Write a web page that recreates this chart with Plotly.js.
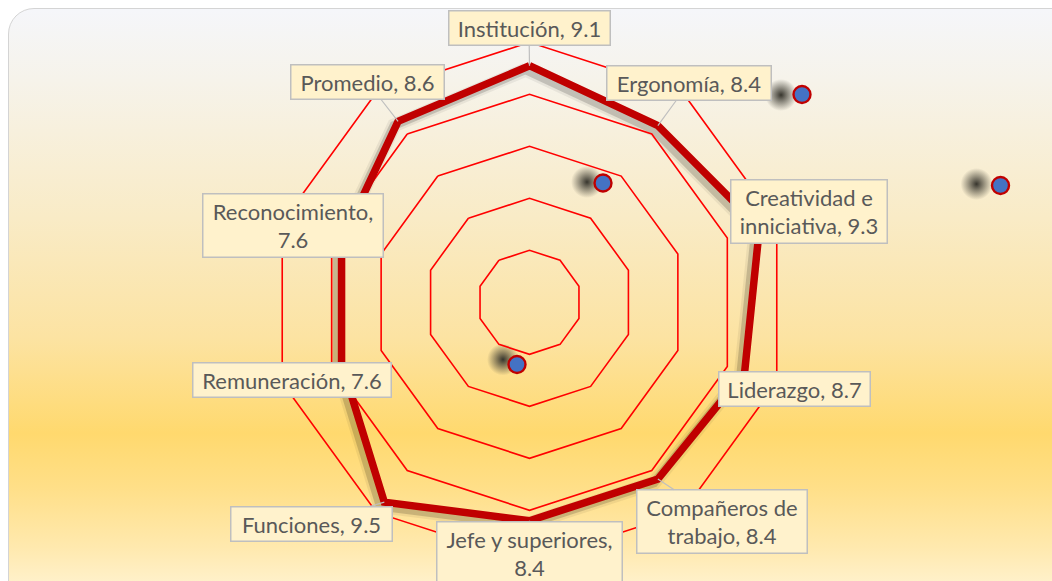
<!DOCTYPE html>
<html>
<head>
<meta charset="utf-8">
<script src="https://cdn.plot.ly/plotly-3.0.1.min.js"></script>
<style>
  html, body { margin:0; padding:0; width:1052px; height:581px; overflow:hidden; background:#ffffff; }
  #frame {
    position:absolute; left:8px; top:8px; width:1070px; height:600px;
    border:1.5px solid #D4D4D4; border-radius:26px; box-sizing:border-box;
    background:linear-gradient(to bottom,
      #F5F6FA 0%, #F6F3EA 12%, #F9EBC6 35%, #FCE3A2 55%, #FFD96E 71%,
      #FFDF88 80%, #FFE9AE 90%, #FFF2CF 97%);
  }
  #chart { position:absolute; left:0; top:0; width:1052px; height:581px; }
</style>
</head>
<body>
<div id="frame"></div>
<div id="chart"></div>
<script>
// ---------------- data ----------------
const categories = ['Institución', 'Ergonomía', 'Creatividad e inniciativa', 'Liderazgo',
  'Compañeros de trabajo', 'Jefe y superiores', 'Funciones', 'Remuneración',
  'Reconocimiento', 'Promedio'];
const values = [9.1, 8.4, 9.3, 8.7, 8.4, 8.4, 9.5, 7.6, 7.6, 8.6];
const radialTicks = [0, 2, 4, 6, 8, 10];

// decorative stray markers (pixel space of the picture)
const decorDotX = [802, 603, 1000.5, 517];
const decorDotY = [94.5, 183, 185.5, 364.5];

// ---------------- layout / style ----------------
const W = 1052, H = 581;
const cx = 529.5, cy = 302.3, R = 260;
const rMax = radialTicks[radialTicks.length - 1];
const shadowOff = [-4, 4];
const decorShadowOff = [[-21, 0.5], [-16, -1], [-24, -1.5], [-14, -5]];

// label boxes: centre (px) and outer width (px)
const boxCenters = [[529, 28], [689, 83], [809, 211.5], [794.5, 388.5], [722, 521.5],
  [529.5, 553], [311.5, 523.5], [292, 379.5], [293, 225.5], [367.5, 82]];
const boxWidths = [163, 166, 158, 153, 172, 187, 163, 200, 182, 155];
const labelBreaks = {2: 'Creatividad e ', 4: 'Compañeros de ', 5: 'superiores, ', 8: 'Reconocimiento, '};

const labelFont = {family: 'Lato, "Open Sans", sans-serif', size: 22, color: '#595959'};

const thetaClosed = categories.concat([categories[0]]);
const rClosed = values.concat([values[0]]);

const domX = [(cx - R) / W, (cx + R) / W];
const domY = [(H - cy - R) / H, (H - cy + R) / H];
const domXs = [domX[0] + shadowOff[0] / W, domX[1] + shadowOff[0] / W];
const domYs = [domY[0] - shadowOff[1] / H, domY[1] - shadowOff[1] / H];

const traces = [
  {type: 'scatterpolar', subplot: 'polar', r: rClosed, theta: thetaClosed, mode: 'lines',
   line: {color: 'rgba(0,0,0,0.06)', width: 14}, hoverinfo: 'skip'},
  {type: 'scatterpolar', subplot: 'polar', r: rClosed, theta: thetaClosed, mode: 'lines',
   line: {color: 'rgba(0,0,0,0.16)', width: 9}, hoverinfo: 'skip'},
  {type: 'scatterpolar', subplot: 'polar2', r: rClosed, theta: thetaClosed, mode: 'lines',
   line: {color: '#C00000', width: 7.5}, hoverinfo: 'skip'},
  {type: 'scatter', xaxis: 'x', yaxis: 'y', mode: 'markers',
   x: decorDotX.map((v, i) => v + decorShadowOff[i][0]),
   y: decorDotY.map((v, i) => v + decorShadowOff[i][1]),
   marker: {size: 32, color: 'rgba(70,68,58,0)', gradient: {type: 'radial', color: 'rgba(55,53,45,1)'}, line: {width: 0}},
   hoverinfo: 'skip'},
  {type: 'scatter', xaxis: 'x', yaxis: 'y', mode: 'markers',
   x: decorDotX, y: decorDotY,
   marker: {size: 17, color: '#4472C4', line: {color: '#C00000', width: 2.4}},
   hoverinfo: 'skip'}
];

const annotations = categories.map((c, i) => {
  let txt = c + ', ' + values[i].toFixed(1);
  if (labelBreaks[i]) txt = txt.replace(labelBreaks[i], labelBreaks[i].trimEnd() + '<br>');
  const ang = i * 2 * Math.PI / categories.length;
  const rr = values[i] / rMax * R;
  const px = cx + rr * Math.sin(ang);
  const py = cy - rr * Math.cos(ang);
  return {
    xref: 'x', yref: 'y', axref: 'x', ayref: 'y',
    x: px, y: py, ax: boxCenters[i][0], ay: boxCenters[i][1],
    text: txt, showarrow: true, arrowhead: 0, arrowwidth: 1.2, arrowcolor: '#BFBFBF',
    standoff: 0, startstandoff: 0,
    bgcolor: '#FFF2CC', bordercolor: '#BFBFBF', borderwidth: 1.5, borderpad: 3,
    width: boxWidths[i] - 9, align: 'center', font: labelFont
  };
});

const hiddenAxis = {visible: false, showgrid: false, zeroline: false, fixedrange: true};

const layout = {
  width: W, height: H,
  margin: {l: 0, r: 0, t: 0, b: 0, pad: 0},
  paper_bgcolor: 'rgba(0,0,0,0)', plot_bgcolor: 'rgba(0,0,0,0)',
  showlegend: false,
  xaxis: Object.assign({range: [0, W], domain: [0, 1]}, hiddenAxis),
  yaxis: Object.assign({range: [H, 0], domain: [0, 1]}, hiddenAxis),
  polar: {
    domain: {x: domXs, y: domYs}, bgcolor: 'rgba(0,0,0,0)', gridshape: 'linear',
    radialaxis: {range: [0, rMax], visible: false},
    angularaxis: {type: 'category', categoryarray: categories, direction: 'clockwise', rotation: 90, visible: false}
  },
  polar2: {
    domain: {x: domX, y: domY}, bgcolor: 'rgba(0,0,0,0)', gridshape: 'linear',
    radialaxis: {range: [0, rMax], tickvals: radialTicks, showticklabels: false, ticks: '',
                 showline: false, gridcolor: '#FF0000', gridwidth: 1.6},
    angularaxis: {type: 'category', categoryarray: categories, direction: 'clockwise', rotation: 90,
                  showgrid: false, showticklabels: false, ticks: '', showline: true,
                  linecolor: '#FF0000', linewidth: 1.6}
  },
  annotations: annotations
};

Plotly.newPlot('chart', traces, layout, {staticPlot: true, displayModeBar: false});
</script>
</body>
</html>
